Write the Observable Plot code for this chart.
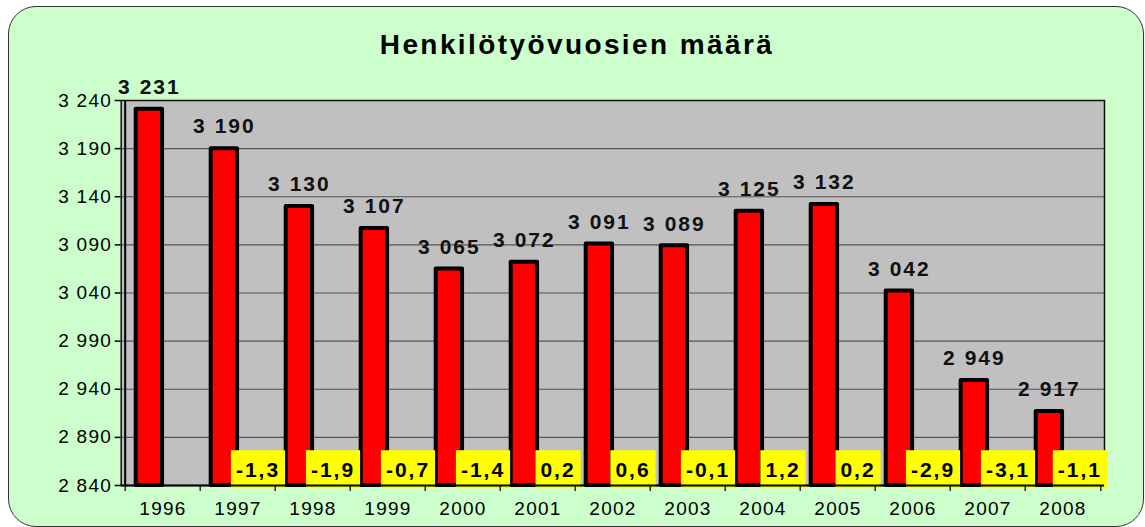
<!DOCTYPE html>
<html>
<head>
<meta charset="utf-8">
<script src="https://cdn.jsdelivr.net/npm/d3@7"></script>
<script src="https://cdn.jsdelivr.net/npm/@observablehq/plot@0.6"></script>
<style>
  body { margin: 0; background: #fff; width: 1145px; height: 527px; overflow: hidden; position: relative;
         font-family: "Liberation Sans", Arial, sans-serif; }
  #card { position: absolute; left: 8px; top: 6px; width: 1136px; height: 521px; box-sizing: border-box;
          border: 1.5px solid #333; border-radius: 28px; background: #ccffcc; }
  #title { position: absolute; left: 0; top: 31px; width: 1154px; text-align: center; font-weight: bold;
           font-size: 28px; line-height: 28px; letter-spacing: 2.4px; color: #000; }
  #chart { position: absolute; left: 0; top: 0; }
  #chart svg text { letter-spacing: 1.3px; }
  #chart g[aria-description="value-label"] text { letter-spacing: 2px; }
  #chart g[aria-description="change-label"] text { letter-spacing: 2px; }
</style>
</head>
<body>
<div id="card"></div>
<div id="title">Henkilötyövuosien määrä</div>
<div id="chart"></div>
<script>
// ---- data ----
const years = ["1996","1997","1998","1999","2000","2001","2002","2003","2004","2005","2006","2007","2008"];
const workYears = [3231, 3190, 3130, 3107, 3065, 3072, 3091, 3089, 3125, 3132, 3042, 2949, 2917];
const changePct = [null, -1.3, -1.9, -0.7, -1.4, 0.2, 0.6, -0.1, 1.2, 0.2, -2.9, -3.1, -1.1];
const yTicks = [2840, 2890, 2940, 2990, 3040, 3090, 3140, 3190, 3240];

// ---- build ----
const W = 1145, H = 527, mL = 120.7, mR = 41, mT = 100, mB = 42;
const bw = (W - mL - mR) / years.length;
const fi = d3.formatLocale({thousands: " ", grouping: [3], decimal: ",", minus: "-"});
const fmtInt = fi.format(",d");
const fmtPct = fi.format(".1f");
const yMin = yTicks[0], yMax = yTicks[yTicks.length - 1];

const rows = years.map((y, i) => ({year: y, value: workYears[i], change: changePct[i]}));
const changeRows = rows.filter(d => d.change != null);

const plot = Plot.plot({
  width: W, height: H,
  marginLeft: mL, marginRight: mR, marginTop: mT, marginBottom: mB,
  style: {background: "transparent", fontFamily: "'Liberation Sans', Arial, sans-serif", fontSize: "19px", color: "#000", overflow: "visible"},
  x: {domain: years, padding: 0, label: null},
  y: {domain: [yMin, yMax], label: null},
  marks: [
    Plot.frame({fill: "#c0c0c0"}),
    Plot.gridY(yTicks, {stroke: "#555", strokeOpacity: 1, strokeWidth: 1.2}),
    Plot.frame({stroke: "#111", strokeWidth: 1.5}),
    Plot.barY(rows, {x: "year", y1: yMin, y2: "value", fill: "#ff0000", stroke: "#000", strokeWidth: 4,
      strokeLinejoin: "round", insetLeft: 10.7, insetRight: bw - 37.7}),
    Plot.text(changeRows, {x: "year", y: yMin, text: d => fmtPct(d.change), dx: 20, dy: -15,
      fontWeight: "bold", fontSize: 21, fill: "#000", ariaDescription: "change-label"}),
    Plot.text(rows, {x: "year", y: "value", text: d => fmtInt(d.value), dx: -13.6, dy: -22,
      fontWeight: "bold", fontSize: 21, fill: "#111", ariaDescription: "value-label"}),
    Plot.ruleY([yMin], {stroke: "#000", strokeWidth: 2}),
    Plot.ruleX([years[0]], {dx: -bw / 2, stroke: "#000", strokeWidth: 2}),
    Plot.axisY({ticks: yTicks, tickFormat: fmtInt, tickSize: 6, tickPadding: 3, fontSize: 19, stroke: "#000", strokeWidth: 1.5}),
    Plot.axisX({ticks: years, tickSize: 6, text: null, dx: -bw / 2, stroke: "#000", strokeWidth: 1.2}),
    Plot.axisX({ticks: [years[years.length - 1]], tickSize: 6, text: null, dx: bw / 2, stroke: "#000", strokeWidth: 1.2}),
    Plot.axisX({ticks: years, tickSize: 0, tickPadding: 16, fontSize: 19, label: null})
  ]
});
document.getElementById("chart").appendChild(plot);

// yellow label backgrounds, sized to each rendered label
const plotRight = W - mR;
const svgBox = plot.getBoundingClientRect();
d3.select(plot).selectAll('g[aria-description="change-label"] text').each(function () {
  const r = this.getBoundingClientRect();
  const g = this.parentNode;
  const m = g.getScreenCTM().inverse();
  const pt = plot.createSVGPoint();
  pt.x = r.left; pt.y = r.top;
  const p0 = pt.matrixTransform(m);
  pt.x = r.right; pt.y = r.bottom;
  const p1 = pt.matrixTransform(m);
  let x0 = p0.x - 5, x1 = p1.x + 5;
  const rightScreen = r.right - svgBox.left + 5;
  const shift = Math.max(0, rightScreen - (plotRight + 3));
  if (shift > 0) {
    const t = this.getAttribute("transform") || "";
    this.setAttribute("transform", `translate(${-shift},0) ` + t);
    x0 -= shift; x1 -= shift;
  }
  d3.select(g).insert("rect", () => this)
    .attr("x", x0).attr("y", p0.y - 8)
    .attr("width", x1 - x0).attr("height", (p1.y - p0.y) + 15)
    .attr("fill", "#ffff00");
});
</script>
</body>
</html>
